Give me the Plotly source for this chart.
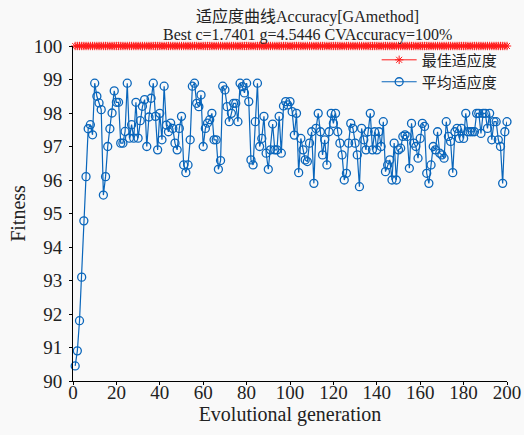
import plotly.graph_objects as go

generations = list(range(1, 201))
best_fitness = [100.0] * 200
avg_fitness = [
    90.45, 90.9, 91.8, 93.1, 94.78, 96.1, 97.53, 97.65, 97.35, 98.89,
    98.5, 98.3, 98.1, 95.55, 96.1, 97.0, 97.53, 98.0, 98.66, 98.32,
    98.32, 97.1, 97.1, 97.45, 98.89, 97.25, 97.65, 97.25, 98.32, 97.25,
    97.77, 98.2, 98.4, 97.0, 97.88, 98.44, 98.89, 97.9, 96.9, 97.99,
    97.2, 98.8, 97.64, 97.44, 97.7, 97.54, 97.1, 96.9, 97.54, 97.9,
    96.45, 96.22, 96.45, 97.2, 98.8, 98.89, 98.29, 98.19, 98.54, 97.0,
    97.54, 97.7, 97.8, 97.99, 97.2, 97.2, 96.32, 96.58, 98.8, 98.69,
    98.19, 97.74, 97.99, 98.29, 98.29, 97.74, 98.89, 98.79, 98.6, 98.89,
    98.34, 96.6, 96.45, 97.74, 98.89, 97.0, 97.24, 97.9, 96.8, 96.32,
    96.9, 97.67, 96.9, 96.9, 97.9, 96.8, 98.21, 98.34, 98.24, 98.34,
    98.04, 97.34, 97.99, 96.22, 97.24, 96.9, 96.6, 96.55, 97.1, 97.44,
    95.9, 97.54, 97.99, 97.44, 96.75, 97.2, 96.45, 97.44, 97.99, 97.69,
    97.99, 97.44, 97.1, 96.75, 96.0, 96.2, 97.1, 97.69, 97.54, 97.1,
    96.75, 95.8, 97.54, 97.2, 96.9, 97.44, 97.99, 96.9, 97.44, 96.9,
    97.44, 97.0, 97.74, 96.25, 96.45, 96.6, 96.0, 97.1, 96.0, 96.9,
    96.95, 97.3, 97.35, 97.3, 96.35, 97.69, 97.1, 97.0, 96.65, 97.24,
    97.69, 97.6, 96.2, 95.9, 96.45, 97.0, 96.9, 97.44, 96.8, 96.75,
    96.65, 97.74, 97.3, 97.15, 96.22, 97.44, 97.54, 97.24, 97.54, 97.24,
    97.99, 97.44, 97.44, 97.44, 97.44, 97.99, 97.99, 97.39, 97.99, 97.99,
    97.54, 97.99, 97.2, 97.74, 97.74, 97.2, 97.0, 95.9, 97.44, 97.74,
]
x_ticks = [0, 20, 40, 60, 80, 100, 120, 140, 160, 180, 200]
y_ticks = [90, 91, 92, 93, 94, 95, 96, 97, 98, 99, 100]
title_lines = ["适应度曲线Accuracy[GAmethod]", "Best c=1.7401 g=4.5446 CVAccuracy=100%"]

serif = "Liberation Serif, Noto Sans CJK SC, serif"
cjk = "Noto Sans CJK SC, Liberation Serif, serif"
bg = "#f9f9f9"
ink = "#222"

fig = go.Figure()
fig.add_trace(go.Scatter(
    x=generations, y=best_fitness, mode="lines+markers", name="最佳适应度",
    line=dict(color="#ff1a1a", width=1),
    marker=dict(symbol="asterisk-open", size=7, color="#ff1a1a",
                line=dict(color="#ff1a1a", width=1)),
    cliponaxis=False, legend="legend",
))
fig.add_trace(go.Scatter(
    x=generations, y=avg_fitness, mode="lines+markers", name="平均适应度",
    line=dict(color="#0a66bb", width=1.2),
    marker=dict(symbol="circle-open", size=8, color="#0a66bb",
                line=dict(color="#0a66bb", width=1.3)),
    cliponaxis=False, legend="legend2",
))

fig.add_annotation(text=title_lines[0], xref="paper", yref="paper",
                   x=0.54, y=1.0, yshift=30, xanchor="center", yanchor="middle",
                   showarrow=False, font=dict(family=serif, size=16, color=ink))
fig.add_annotation(text=title_lines[1], xref="paper", yref="paper",
                   x=0.54, y=1.0, yshift=11, xanchor="center", yanchor="middle",
                   showarrow=False, font=dict(family=serif, size=16, color=ink))

legend_style = dict(
    xanchor="right", yanchor="middle",
    bgcolor="rgba(0,0,0,0)", borderwidth=0,
    font=dict(family=cjk, size=15, color=ink),
    itemwidth=35,
)

fig.update_layout(
    width=524, height=435,
    template="none",
    paper_bgcolor=bg, plot_bgcolor=bg,
    margin=dict(l=73, r=17, t=46, b=54, autoexpand=False),
    showlegend=True,
    legend=dict(x=0.99, y=0.958, **legend_style),
    legend2=dict(x=0.99, y=0.8925, **legend_style),
    font=dict(family=serif, color=ink),
)
fig.update_xaxes(
    range=[0, 200], tickvals=x_ticks, ticktext=[str(v) for v in x_ticks],
    automargin=False,
    showgrid=False, zeroline=False, showline=True, linecolor="#000", linewidth=1,
    ticks="outside", ticklen=3, tickcolor="#000",
    ticklabelstandoff=-9,
    tickfont=dict(family=serif, size=19, color=ink),
    title=dict(text="Evolutional generation", font=dict(family=serif, size=20, color=ink), standoff=0),
)
fig.update_yaxes(
    range=[90, 100], tickvals=y_ticks, ticktext=[str(v) for v in y_ticks],
    automargin=False,
    showgrid=False, zeroline=False, showline=True, linecolor="#000", linewidth=1,
    ticks="outside", ticklen=3, tickcolor="#000",
    ticklabelstandoff=3,
    tickfont=dict(family=serif, size=19, color=ink),
    title=dict(text="Fitness", font=dict(family=serif, size=20, color=ink), standoff=2),
)

fig.write_html("out.html", config={"displayModeBar": False},
               post_script="document.body.style.margin='0';")
